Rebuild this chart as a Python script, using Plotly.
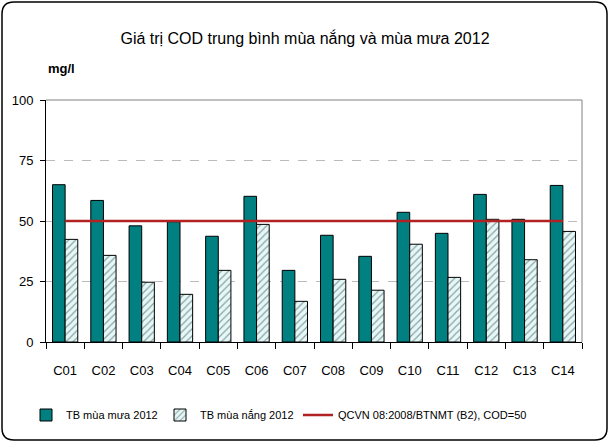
import plotly.graph_objects as go

stations = ["C01", "C02", "C03", "C04", "C05", "C06", "C07",
            "C08", "C09", "C10", "C11", "C12", "C13", "C14"]
mua_mua = [65, 58.5, 48, 49.7, 43.7, 60.2, 29.6, 44.1, 35.4, 53.6, 44.9, 61, 50.7, 64.7]
mua_nang = [42.4, 35.8, 24.7, 19.7, 29.6, 48.6, 16.8, 25.9, 21.4, 40.4, 26.7, 50.7, 34, 45.7]
qcvn = [50] * len(stations)

W, H = 611, 446
L, R, T, B = 46, 29, 100, 104
pw, ph = W - L - R, H - T - B
FONT = "Liberation Sans Narrow, Arial Narrow, Liberation Sans, Arial"


def px(x):
    return (x - L) / pw


def py(y):
    return (H - B - y) / ph


fig = go.Figure()
fig.add_trace(go.Bar(
    name="TB mùa mưa 2012", x=stations, y=mua_mua, legend="legend",
    marker=dict(color="#008080", line=dict(color="black", width=1))
))
fig.add_trace(go.Bar(
    name="TB mùa nắng 2012", x=stations, y=mua_nang, legend="legend2",
    marker=dict(color="#e6f7f7", line=dict(color="black", width=1),
                pattern=dict(shape="/", fgcolor="#2f4f4f", bgcolor="#e6f7f7",
                             size=5, solidity=0.25))
))
fig.add_trace(go.Scatter(
    name="QCVN 08:2008/BTNMT (B2), COD=50", x=stations, y=qcvn, legend="legend3",
    mode="lines", line=dict(color="#b22222", width=2.5)
))

# rounded frame around the whole picture
x0, x1, y0, y1, r = px(2), px(607), py(2), py(440), 12
rx, ry = r / pw, r / ph
path = (f"M {x0 + rx},{y0} L {x1 - rx},{y0} Q {x1},{y0} {x1},{y0 - ry} "
        f"L {x1},{y1 + ry} Q {x1},{y1} {x1 - rx},{y1} "
        f"L {x0 + rx},{y1} Q {x0},{y1} {x0},{y1 + ry} "
        f"L {x0},{y0 - ry} Q {x0},{y0} {x0 + rx},{y0} Z")


def leg(xpix):
    return dict(orientation="h", x=xpix / W, xanchor="left", xref="container",
                y=1 - 415 / H, yref="container", yanchor="middle",
                font=dict(family=FONT, size=11), itemwidth=30,
                bgcolor="rgba(0,0,0,0)")


fig.update_layout(
    width=W, height=H,
    margin=dict(l=L, r=R, t=T, b=B),
    paper_bgcolor="white", plot_bgcolor="white",
    font=dict(family=FONT, size=12, color="black"),
    title=dict(text="Giá trị COD trung bình mùa nắng và mùa mưa 2012",
               x=305 / W, xref="container", xanchor="center", y=1 - 38 / H, yanchor="middle",
               font=dict(family=FONT, size=16, color="black")),
    barmode="group", bargap=0.34, bargroupgap=0,
    showlegend=True,
    legend=leg(26), legend2=leg(160), legend3=leg(298),
    shapes=[
        dict(type="path", xref="paper", yref="paper", path=path,
             line=dict(color="black", width=1.5), layer="above"),
        dict(type="line", xref="paper", yref="paper", x0=0, x1=1, y0=1, y1=1,
             line=dict(color="#808080", width=1)),
        dict(type="line", xref="paper", yref="paper", x0=1, x1=1, y0=0, y1=1,
             line=dict(color="#808080", width=1)),
    ],
    annotations=[
        dict(text="<b>mg/l</b>", xref="paper", yref="paper", x=px(46), y=py(68),
             xanchor="left", yanchor="middle", showarrow=False,
             font=dict(family=FONT, size=13)),
    ],
)
fig.update_xaxes(
    showline=True, linecolor="black", linewidth=1,
    ticks="outside", tickson="boundaries", ticklen=6, tickcolor="black",
    tickfont=dict(size=13), ticklabelstandoff=16, showgrid=False,
)
fig.update_yaxes(
    range=[0, 100], tickvals=[0, 25, 50, 75, 100],
    showline=True, linecolor="black", linewidth=1,
    ticks="outside", ticklen=5, tickcolor="black",
    tickfont=dict(size=13), ticklabelstandoff=4,
    showgrid=True, gridcolor="#bbbbbb", griddash="dash", gridwidth=1,
    zeroline=False,
)

fig.write_html("out.html", config={"displayModeBar": False},
               post_script="document.body.style.margin='0';")
